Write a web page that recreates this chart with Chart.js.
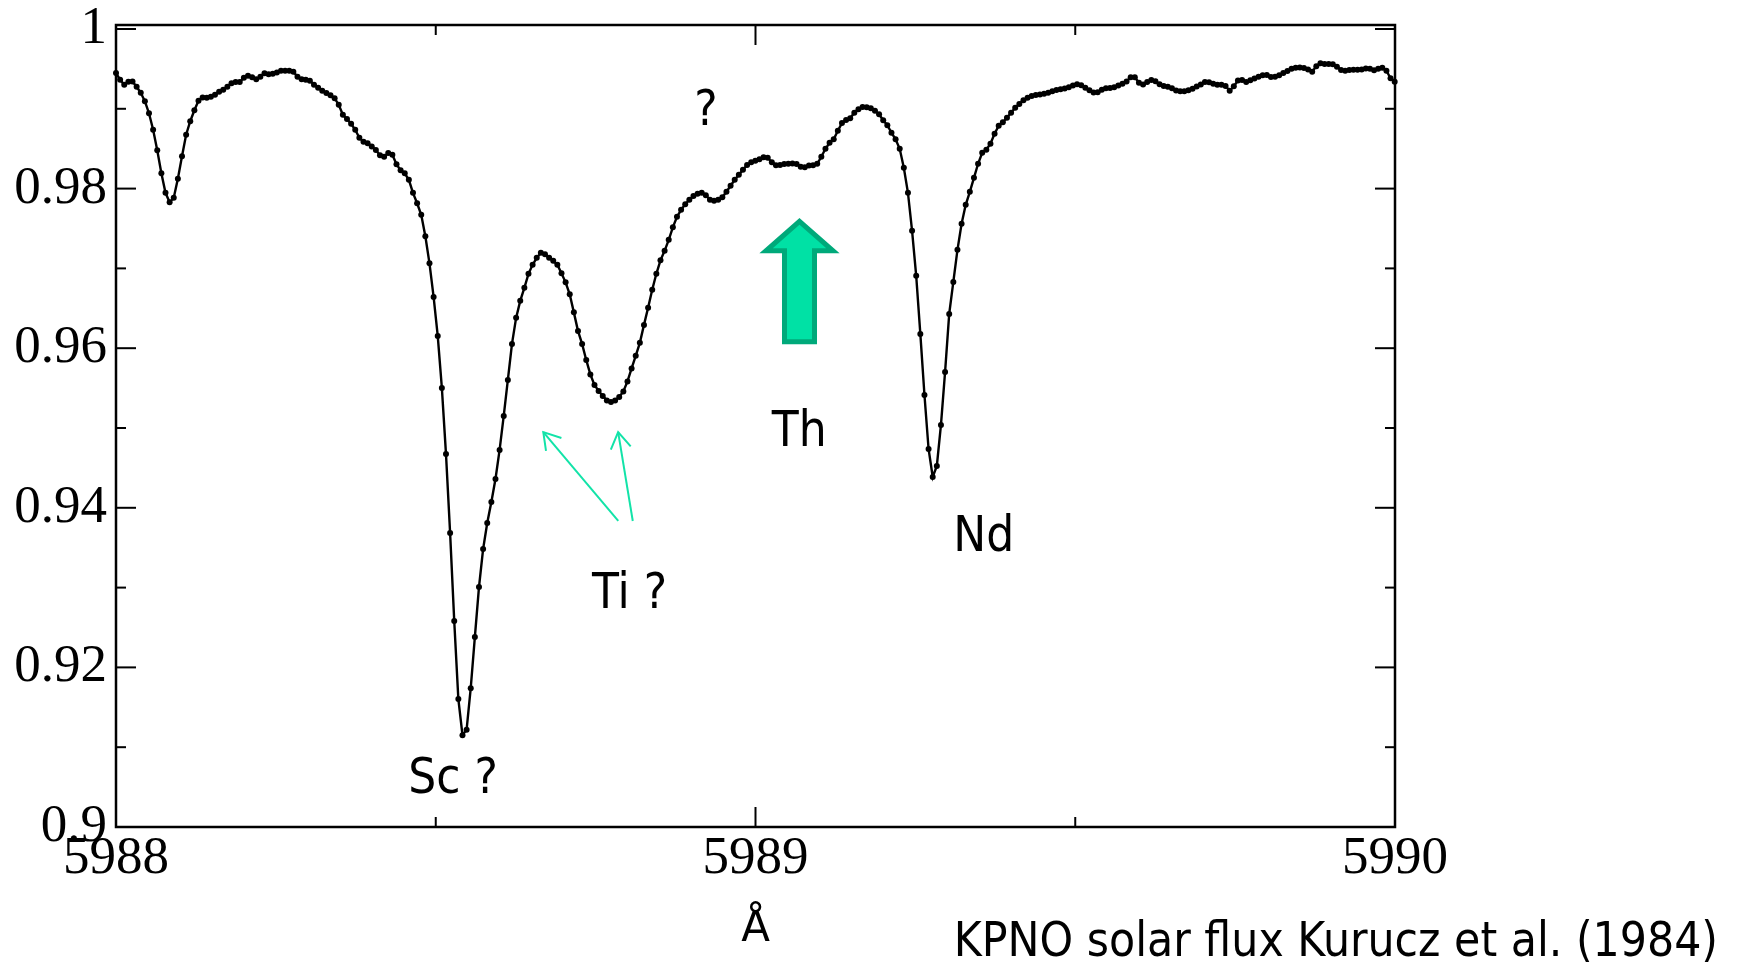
<!DOCTYPE html>
<html><head><meta charset="utf-8">
<script src="https://cdn.jsdelivr.net/npm/chart.js@4.4.1/dist/chart.umd.min.js"></script>
<style>html,body{margin:0;padding:0;background:#fff;overflow:hidden}canvas{display:block}</style>
</head><body>
<canvas id="c" width="1739" height="968"></canvas>
<script>
// Uniform wavelength sampling of the spectrum (Å)
const lambdaStart = 5988.0;
const lambdaStep = 0.00645;
// Normalised solar flux, one value per sample
const flux = [
0.99448,0.99364,0.99302,0.99339,0.99343,0.99276,0.99201,0.99095,0.98944,0.98737,
0.98480,0.98192,0.97947,0.97828,0.97885,0.98123,0.98405,0.98675,0.98844,0.98982,
0.99101,0.99142,0.99139,0.99151,0.99176,0.99214,0.99239,0.99276,0.99320,0.99335,
0.99335,0.99389,0.99414,0.99396,0.99371,0.99402,0.99446,0.99433,0.99440,0.99456,
0.99477,0.99477,0.99477,0.99465,0.99402,0.99371,0.99364,0.99352,0.99302,0.99264,
0.99227,0.99198,0.99170,0.99132,0.99051,0.98925,0.98871,0.98813,0.98737,0.98637,
0.98587,0.98568,0.98528,0.98484,0.98418,0.98399,0.98445,0.98424,0.98305,0.98229,
0.98192,0.98110,0.97947,0.97816,0.97672,0.97402,0.97063,0.96643,0.96154,0.95502,
0.94675,0.93684,0.92581,0.91603,0.91151,0.91220,0.91740,0.92380,0.93007,0.93483,
0.93809,0.94073,0.94361,0.94725,0.95151,0.95603,0.96054,0.96380,0.96593,0.96756,
0.96932,0.97045,0.97132,0.97195,0.97176,0.97132,0.97095,0.97045,0.96938,0.96825,
0.96675,0.96449,0.96217,0.96054,0.95853,0.95671,0.95539,0.95465,0.95402,0.95346,
0.95327,0.95346,0.95389,0.95458,0.95584,0.95747,0.95904,0.96067,0.96292,0.96506,
0.96732,0.96932,0.97101,0.97220,0.97358,0.97515,0.97646,0.97734,0.97803,0.97860,
0.97906,0.97935,0.97947,0.97916,0.97860,0.97847,0.97860,0.97891,0.97960,0.98035,
0.98110,0.98173,0.98236,0.98295,0.98330,0.98349,0.98367,0.98392,0.98386,0.98330,
0.98292,0.98295,0.98308,0.98311,0.98313,0.98307,0.98273,0.98267,0.98288,0.98292,
0.98311,0.98399,0.98499,0.98574,0.98618,0.98725,0.98821,0.98859,0.98882,0.98951,
0.98994,0.99022,0.99020,0.99006,0.98976,0.98932,0.98857,0.98794,0.98700,0.98618,
0.98499,0.98261,0.97947,0.97471,0.96907,0.96179,0.95414,0.94737,0.94386,0.94524,
0.95038,0.95703,0.96430,0.96831,0.97233,0.97559,0.97797,0.97960,0.98135,0.98311,
0.98449,0.98487,0.98562,0.98687,0.98788,0.98831,0.98888,0.98951,0.99013,0.99060,
0.99106,0.99139,0.99160,0.99172,0.99179,0.99189,0.99201,0.99221,0.99235,0.99244,
0.99254,0.99270,0.99292,0.99308,0.99295,0.99264,0.99231,0.99204,0.99206,0.99239,
0.99258,0.99260,0.99270,0.99292,0.99314,0.99343,0.99396,0.99396,0.99327,0.99304,
0.99335,0.99360,0.99345,0.99308,0.99285,0.99277,0.99258,0.99230,0.99219,0.99221,
0.99233,0.99251,0.99280,0.99305,0.99335,0.99333,0.99314,0.99302,0.99302,0.99285,
0.99226,0.99283,0.99354,0.99362,0.99337,0.99357,0.99381,0.99402,0.99421,0.99425,
0.99398,0.99402,0.99421,0.99447,0.99473,0.99502,0.99515,0.99518,0.99511,0.99492,
0.99465,0.99534,0.99571,0.99562,0.99561,0.99557,0.99527,0.99487,0.99477,0.99487,
0.99490,0.99490,0.99492,0.99506,0.99502,0.99482,0.99502,0.99515,0.99477,0.99383,
0.99339
];
// Axis ticks
const xTickValues = [5988, 5988.5, 5989, 5989.5, 5990];
const xTickLabels = ['5988', '', '5989', '', '5990'];
const yTickValues = [0.9, 0.91, 0.92, 0.93, 0.94, 0.95, 0.96, 0.97, 0.98, 0.99, 1.0];
const yTickLabels = ['0.9', '', '0.92', '', '0.94', '', '0.96', '', '0.98', '', '1'];
const xTitle = 'Å';
const creditText = 'KPNO solar flux Kurucz et al. (1984)';
// Line identifications, anchored in data space (wavelength, flux at text baseline)
const noteTexts = ['Sc ?', 'Ti ?', 'Th', 'Nd', '?'];
const noteLambda = [5988.527, 5988.803, 5989.0685, 5989.357, 5988.9226];
const noteFlux = [0.9042, 0.9274, 0.9478, 0.9346, 0.9880];
// Thin pointers for "Ti ?" (tail -> tip), data space
const pointerTailLambda = [5988.7854, 5988.8081];
const pointerTailFlux = [0.93835, 0.93835];
const pointerTipLambda = [5988.6682, 5988.7852];
const pointerTipFlux = [0.94948, 0.94948];
// Block arrow marking the Th line, data space
const thArrowLambda = 5989.0688;
const thArrowTipFlux = 0.9759;
const thArrowHeadFlux = 0.9722;
const thArrowBaseFlux = 0.9608;

const points = flux.map((f, i) => ({x: lambdaStart + i * lambdaStep, y: f}));

const sans = "'DejaVu Sans Condensed', 'DejaVu Sans', sans-serif";

const decorPlugin = {
  id: 'decor',
  afterDraw(chart) {
    const {ctx, chartArea: a, scales: {x, y}} = chart;
    ctx.save();
    const line = (x1, y1, x2, y2) => { ctx.beginPath(); ctx.moveTo(x1, y1); ctx.lineTo(x2, y2); ctx.stroke(); };
    // frame
    ctx.strokeStyle = '#000';
    ctx.lineWidth = 2.5;
    ctx.strokeRect(a.left, a.top, a.right - a.left, a.bottom - a.top);
    // inward ticks
    ctx.lineWidth = 2;
    yTickValues.forEach((v, i) => {
      const py = y.getPixelForValue(v);
      const L = yTickLabels[i] ? 20 : 10;
      line(a.left, py, a.left + L, py);
      line(a.right, py, a.right - L, py);
    });
    xTickValues.forEach((v, i) => {
      const px = x.getPixelForValue(v);
      const L = xTickLabels[i] ? 20 : 10;
      line(px, a.bottom, px, a.bottom - L);
      line(px, a.top, px, a.top + L);
    });
    // annotations
    ctx.fillStyle = '#000';
    ctx.font = "49px " + sans;
    ctx.textAlign = 'center';
    ctx.textBaseline = 'alphabetic';
    noteTexts.forEach((t, i) => {
      ctx.fillText(t, x.getPixelForValue(noteLambda[i]), y.getPixelForValue(noteFlux[i]));
    });
    // thin green pointers
    ctx.strokeStyle = '#12E3A8';
    ctx.lineWidth = 2;
    pointerTipLambda.forEach((_, i) => {
      const tx = x.getPixelForValue(pointerTailLambda[i]), ty = y.getPixelForValue(pointerTailFlux[i]);
      const hx = x.getPixelForValue(pointerTipLambda[i]), hy = y.getPixelForValue(pointerTipFlux[i]);
      line(tx, ty, hx, hy);
      const ang = Math.atan2(ty - hy, tx - hx);
      const w = 19, spread = 32 * Math.PI / 180;
      ctx.beginPath();
      ctx.moveTo(hx + w * Math.cos(ang - spread), hy + w * Math.sin(ang - spread));
      ctx.lineTo(hx, hy);
      ctx.lineTo(hx + w * Math.cos(ang + spread), hy + w * Math.sin(ang + spread));
      ctx.stroke();
    });
    // block arrow
    const cx = x.getPixelForValue(thArrowLambda);
    const yt = y.getPixelForValue(thArrowTipFlux);
    const yh = y.getPixelForValue(thArrowHeadFlux);
    const yb = y.getPixelForValue(thArrowBaseFlux);
    const hw = 33.5, sw = 15;
    ctx.beginPath();
    ctx.moveTo(cx, yt);
    ctx.lineTo(cx + hw, yh);
    ctx.lineTo(cx + sw, yh);
    ctx.lineTo(cx + sw, yb);
    ctx.lineTo(cx - sw, yb);
    ctx.lineTo(cx - sw, yh);
    ctx.lineTo(cx - hw, yh);
    ctx.closePath();
    ctx.fillStyle = '#00E1A5';
    ctx.fill();
    ctx.strokeStyle = '#00A97A';
    ctx.lineWidth = 5;
    ctx.lineJoin = 'miter';
    ctx.stroke();
    // credit
    ctx.fillStyle = '#000';
    ctx.font = "47.5px " + sans;
    ctx.textAlign = 'right';
    ctx.textBaseline = 'alphabetic';
    ctx.fillText(creditText, chart.width - 21, 956);
    ctx.restore();
  }
};

new Chart(document.getElementById('c'), {
  type: 'line',
  data: {
    datasets: [{
      data: points,
      borderColor: '#000',
      borderWidth: 2.4,
      pointRadius: 3,
      pointBackgroundColor: '#000',
      pointBorderWidth: 0,
      tension: 0,
      fill: false,
      clip: false
    }]
  },
  options: {
    responsive: false,
    animation: false,
    events: [],
    layout: {padding: {top: 25, right: 344, left: 0, bottom: 0}},
    plugins: {legend: {display: false}, tooltip: {enabled: false}},
    scales: {
      x: {
        type: 'linear',
        min: 5988, max: 5990,
        afterBuildTicks: s => { s.ticks = xTickValues.map(v => ({value: v})); },
        afterFit: s => { s.height = 141; s.paddingLeft = 0; s.paddingRight = 0; s.paddingTop = 0; s.paddingBottom = 0; },
        grid: {display: false, drawTicks: false},
        border: {display: false},
        ticks: {
          callback: (v, i) => xTickLabels[i],
          autoSkip: false, maxRotation: 0, minRotation: 0,
          padding: 0,
          color: '#000',
          font: {family: "'Liberation Serif', 'Times New Roman', serif", size: 53}
        },
        title: {
          display: true, text: xTitle, color: '#000',
          font: {family: "'DejaVu Sans', sans-serif", size: 42},
          padding: {top: 0, bottom: 13}
        }
      },
      y: {
        type: 'linear',
        min: 0.9, max: 1.0005,
        afterBuildTicks: s => { s.ticks = yTickValues.map(v => ({value: v})); },
        afterFit: s => { s.width = 116; s.paddingTop = 0; s.paddingBottom = 0; s.paddingLeft = 0; s.paddingRight = 0; },
        grid: {display: false, drawTicks: false},
        border: {display: false},
        ticks: {
          callback: (v, i) => yTickLabels[i],
          autoSkip: false,
          padding: 9,
          color: '#000',
          font: {family: "'Liberation Serif', 'Times New Roman', serif", size: 53}
        }
      }
    }
  },
  plugins: [decorPlugin]
});
</script>
</body></html>
